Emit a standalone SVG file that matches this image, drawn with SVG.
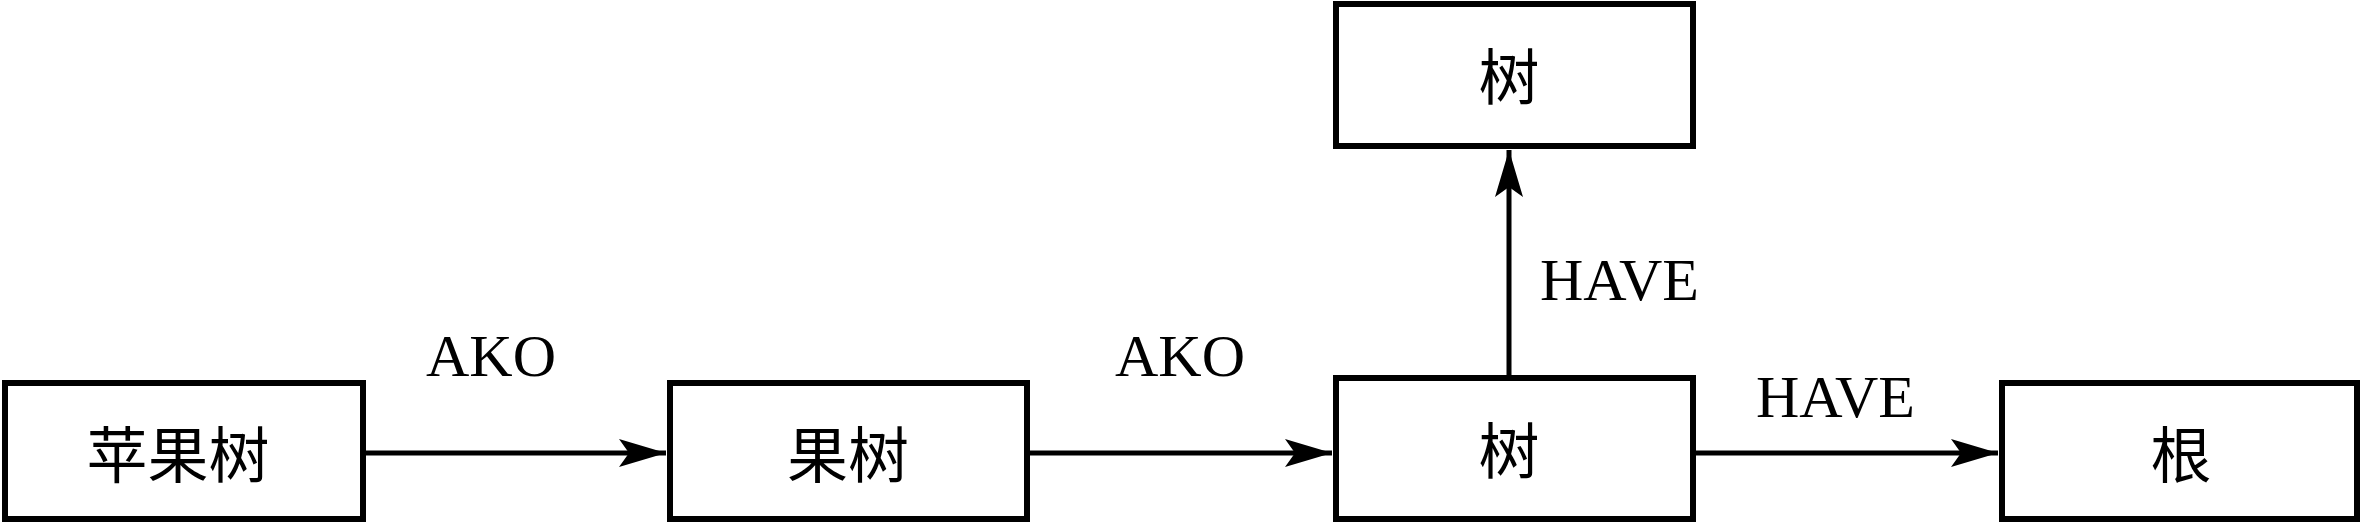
<svg xmlns="http://www.w3.org/2000/svg" width="2363" height="530" viewBox="0 0 2363 530">
<style>
.box{fill:#fff;stroke:#000;stroke-width:6}
.cj{font-family:"Noto Sans CJK SC","Liberation Serif",serif;font-size:61px;fill:#000;text-anchor:middle;dominant-baseline:central}
.lb{font-family:"Liberation Serif","Times New Roman",serif;font-size:60px;fill:#000}
.ln{stroke:#000;stroke-width:5;fill:none}
</style>
<defs>
<marker id="ah" markerUnits="userSpaceOnUse" markerWidth="50" markerHeight="32" viewBox="-48 -16 50 32" refX="0" refY="0" orient="auto">
<path d="M0,0 L-47,-14 L-37,0 L-47,14 Z" fill="#000"/>
</marker>
</defs>
<g id="connectors">
<line class="ln" x1="365" y1="453" x2="666" y2="453" marker-end="url(#ah)"/>
<line class="ln" x1="1029" y1="453" x2="1332" y2="453" marker-end="url(#ah)"/>
<line class="ln" x1="1695" y1="453" x2="1998" y2="453" marker-end="url(#ah)"/>
<line class="ln" x1="1509" y1="378" x2="1509" y2="150" marker-end="url(#ah)"/>
<text class="lb" x="426" y="376">AKO</text>
<text class="lb" x="1115" y="376">AKO</text>
<text class="lb" x="1540" y="300">HAVE</text>
<text class="lb" x="1756" y="417">HAVE</text>
</g>
<g id="n1"><rect class="box" x="5" y="383" width="358" height="136"/><text class="cj" x="178" y="451">苹果树</text></g>
<g id="n2"><rect class="box" x="670" y="383" width="357" height="136"/><text class="cj" x="848" y="451">果树</text></g>
<g id="n3"><rect class="box" x="1336" y="378" width="357" height="141"/><text class="cj" x="1509" y="447">树</text></g>
<g id="n4"><rect class="box" x="2002" y="383" width="355" height="136"/><text class="cj" x="2181" y="451">根</text></g>
<g id="n5"><rect class="box" x="1336" y="4" width="357" height="142"/><text class="cj" x="1509" y="73">树</text></g>
</svg>
